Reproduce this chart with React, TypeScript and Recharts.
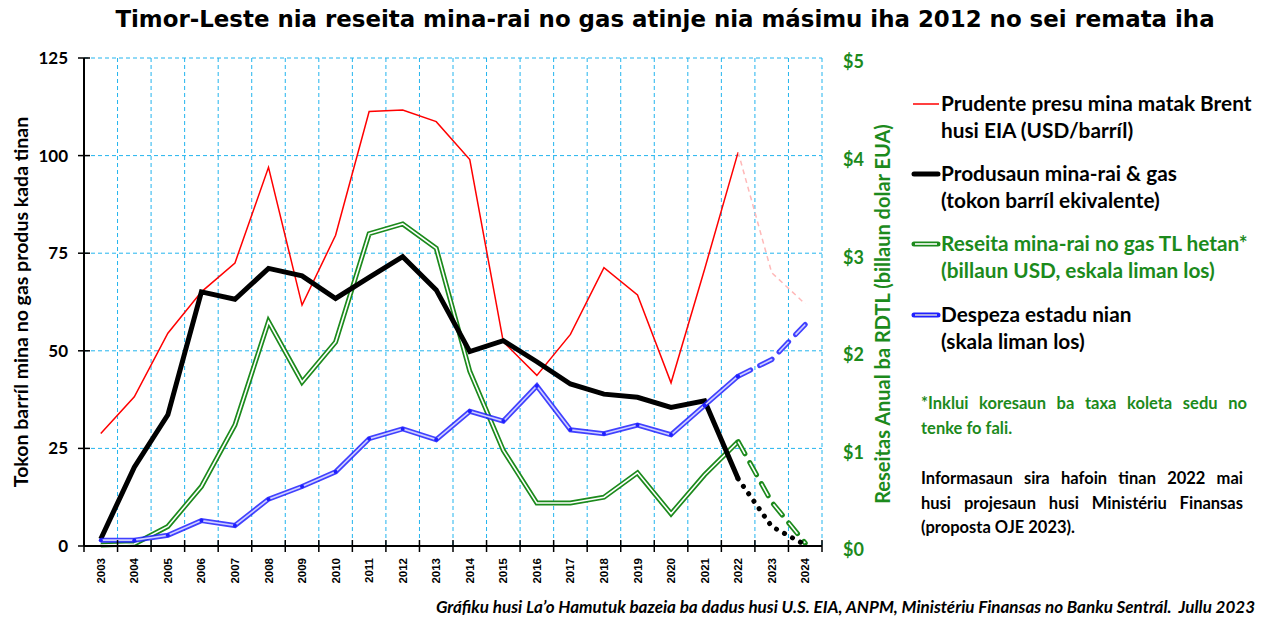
import React from 'react'
import { LineChart, Line, XAxis, YAxis, CartesianGrid } from 'recharts'

const YEARS = [2003, 2004, 2005, 2006, 2007, 2008, 2009, 2010, 2011, 2012, 2013, 2014, 2015, 2016, 2017, 2018, 2019, 2020, 2021, 2022, 2023, 2024]
// Brent price, USD/barrel (left scale)
const BRENT = [28.8, 38.2, 54.5, 65.1, 72.5, 97.0, 61.7, 79.6, 111.3, 111.7, 108.7, 99.0, 52.3, 43.7, 54.2, 71.3, 64.3, 41.8, 70.9, 100.9, 70.0, 62.0]
// production, million barrels oil equivalent (left scale)
const PRODUCTION = [1.8, 20.2, 33.6, 65.1, 63.2, 71.1, 69.2, 63.4, 68.8, 74.1, 65.6, 49.8, 52.6, 47.2, 41.5, 38.9, 38.1, 35.5, 37.2, 17.2, 5.0, 0.3]
// petroleum revenue, billion USD (right scale)
const REVENUE = [0.01, 0.02, 0.2, 0.61, 1.24, 2.3, 1.68, 2.09, 3.2, 3.3, 3.05, 1.79, 0.98, 0.44, 0.44, 0.5, 0.75, 0.33, 0.73, 1.07, 0.45, 0.03]
// state spending, billion USD (right scale)
const SPENDING = [0.06, 0.06, 0.11, 0.26, 0.21, 0.48, 0.61, 0.76, 1.1, 1.2, 1.09, 1.38, 1.28, 1.64, 1.19, 1.15, 1.24, 1.14, 1.44, 1.74, 1.91, 2.27]
const LAST_ACTUAL = 2022

const LEFT_TICKS = [0, 25, 50, 75, 100, 125]
const RIGHT_TICKS = [0, 1, 2, 3, 4, 5]

const W = 1266
const H = 618
const LEFT_W = 84
const RIGHT_W = 60
const MARGIN = { top: 58, right: 384, bottom: 0, left: 0 }
const PLOT_W = W - MARGIN.right - RIGHT_W - LEFT_W
const HALF = PLOT_W / YEARS.length / 2

const GREEN = '#1c8a1c'
const BLUE = '#2020ff'
const GRID = '#22b4ee'
const FONT = 'Lato, "Open Sans", sans-serif'

const bounds = YEARS.map((y) => y - 0.5).concat(YEARS[YEARS.length - 1] + 0.5)

const data = YEARS.map((year, i) => {
    const hist = year <= LAST_ACTUAL
    const proj = year >= LAST_ACTUAL
    return {
        year,
        brent: hist ? BRENT[i] : null,
        brentP: proj ? BRENT[i] : null,
        prod: hist ? PRODUCTION[i] : null,
        prodP: proj ? PRODUCTION[i] : null,
        rev: hist ? REVENUE[i] : null,
        revP: proj ? REVENUE[i] : null,
        spend: hist ? SPENDING[i] : null,
        spendP: proj ? SPENDING[i] : null,
    }
})

function YearTick(props: any) {
    const { x, y, payload } = props
    const v = payload.value
    return (
        <g>
            <line x1={x} x2={x} y1={y - 12} y2={y} stroke="#000" strokeWidth={1.5} />
            {v < YEARS[YEARS.length - 1] && (
                <text
                    x={0}
                    y={0}
                    transform={`translate(${x + HALF + 4}, ${y + 6}) rotate(-90)`}
                    textAnchor="end"
                    fontSize={11.5}
                    fontWeight={700}
                    fontFamily='"Liberation Sans", Arial, sans-serif'
                    fill="#000"
                >
                    {Math.round(v + 0.5)}
                </text>
            )}
        </g>
    )
}

function LeftTick(props: any) {
    const { y, payload } = props
    return (
        <g>
            <line x1={LEFT_W - 6} x2={LEFT_W + 6} y1={y} y2={y} stroke="#000" strokeWidth={1.5} />
            <text x={LEFT_W - 16} y={y + 6} textAnchor="end" fontSize={17} fontWeight={700} fontFamily={FONT} fill="#000">
                {payload.value}
            </text>
        </g>
    )
}

function LegendIcon({ kind }: { kind: string }) {
    return (
        <svg width={30} height={10} style={{ position: 'absolute', left: 0, top: 10 }}>
            {kind === 'red' && <line x1={2} x2={28} y1={5} y2={5} stroke="#ff0000" strokeWidth={1.5} />}
            {kind === 'black' && <line x1={3} x2={27} y1={5} y2={5} stroke="#000" strokeWidth={5} strokeLinecap="round" />}
            {kind === 'green' && (
                <g>
                    <line x1={3} x2={27} y1={5} y2={5} stroke={GREEN} strokeWidth={5} strokeLinecap="round" />
                    <line x1={4} x2={26} y1={5} y2={5} stroke="#fff" strokeWidth={1.6} />
                </g>
            )}
            {kind === 'blue' && (
                <g>
                    <line x1={3} x2={27} y1={5} y2={5} stroke={BLUE} strokeWidth={5} strokeLinecap="round" />
                    <line x1={4} x2={26} y1={5} y2={5} stroke="#ccd" strokeWidth={1.6} />
                </g>
            )}
        </svg>
    )
}

const LEGEND = [
    { kind: 'red', top: 89, color: '#000', lines: ['Prudente presu mina matak Brent', 'husi EIA (USD/barríl)'] },
    { kind: 'black', top: 159, color: '#000', lines: ['Produsaun mina-rai & gas', '(tokon barríl ekivalente)'] },
    { kind: 'green', top: 229, color: GREEN, lines: ['Reseita mina-rai no gas TL hetan*', '(billaun USD, eskala liman los)'] },
    { kind: 'blue', top: 300, color: '#000', lines: ['Despeza estadu nian', '(skala liman los)'] },
]

const NOTE_GREEN = ['*Inklui koresaun ba taxa koleta sedu no', 'tenke fo fali.']
const NOTE_BLACK = ['Informasaun sira hafoin tinan 2022 mai', 'husi projesaun husi Ministériu Finansas', '(proposta OJE 2023).']

function Justified({ lines, style }: { lines: string[]; style: React.CSSProperties }) {
    return (
        <div style={style}>
            {lines.map((l, i) => (
                <div key={l} style={{ textAlign: 'justify', textAlignLast: i < lines.length - 1 ? 'justify' : 'left' }}>
                    {l}
                </div>
            ))}
        </div>
    )
}

export default function App() {
    return (
        <div style={{ position: 'absolute', left: 0, top: 0, width: W, height: H, background: '#fff', fontFamily: FONT, overflow: 'hidden' }}>
            <div style={{ position: 'absolute', left: 0, top: 6, width: 1330, textAlign: 'center', fontSize: 22.9, fontWeight: 700, color: '#000', fontFamily: '"DejaVu Sans", Verdana, sans-serif', whiteSpace: 'nowrap' }}>
                Timor-Leste nia reseita mina-rai no gas atinje nia másimu iha 2012 no sei remata iha
            </div>

            <LineChart width={W} height={H} data={data} margin={MARGIN} style={{ position: 'absolute', left: 0, top: 0 }}>
                <CartesianGrid yAxisId="left" stroke={GRID} strokeDasharray="4 3" strokeWidth={1} />
                <XAxis
                    dataKey="year"
                    type="number"
                    domain={[bounds[0], bounds[bounds.length - 1]]}
                    ticks={bounds}
                    interval={0}
                    height={72}
                    axisLine={{ stroke: '#000', strokeWidth: 2 }}
                    tickLine={false}
                    tickSize={6}
                    tickMargin={0}
                    tick={<YearTick />}
                />
                <YAxis
                    yAxisId="left"
                    domain={[0, 125]}
                    ticks={LEFT_TICKS}
                    width={LEFT_W}
                    axisLine={{ stroke: '#000', strokeWidth: 2 }}
                    tickLine={false}
                    tick={<LeftTick />}
                />
                <YAxis
                    yAxisId="right"
                    orientation="right"
                    domain={[0, 5]}
                    ticks={RIGHT_TICKS}
                    width={RIGHT_W}
                    axisLine={false}
                    tickLine={false}
                    tickSize={6}
                    tickMargin={15}
                    tickFormatter={(v) => `$${v}`}
                    tick={{ fill: GREEN, fontSize: 18, fontWeight: 700, fontFamily: FONT, textAnchor: 'start', dy: 4 }}
                />

                <Line yAxisId="left" dataKey="brent" stroke="#ff0000" strokeWidth={1.5} dot={false} activeDot={false} isAnimationActive={false} />
                <Line yAxisId="left" dataKey="brentP" stroke="#ffb8b8" strokeWidth={1.5} strokeDasharray="5 4" dot={false} activeDot={false} isAnimationActive={false} />

                <Line yAxisId="right" dataKey="rev" stroke={GREEN} strokeWidth={5} dot={false} activeDot={false} isAnimationActive={false} />
                <Line yAxisId="right" dataKey="rev" stroke="#fff" strokeWidth={1.6} dot={false} activeDot={false} isAnimationActive={false} />
                <Line yAxisId="right" dataKey="revP" stroke={GREEN} strokeWidth={5} strokeDasharray="14 10" strokeLinecap="round" dot={false} activeDot={false} isAnimationActive={false} />
                <Line yAxisId="right" dataKey="revP" stroke="#fff" strokeWidth={1.6} strokeDasharray="14 10" dot={false} activeDot={false} isAnimationActive={false} />

                <Line yAxisId="left" dataKey="prod" stroke="#000" strokeWidth={5} dot={false} activeDot={false} isAnimationActive={false} />
                <Line yAxisId="left" dataKey="prodP" stroke="#000" strokeWidth={5} strokeDasharray="0.1 9" strokeLinecap="round" dot={false} activeDot={false} isAnimationActive={false} />

                <Line yAxisId="right" dataKey="spend" stroke={BLUE} strokeWidth={5} strokeOpacity={0.85} dot={{ r: 2, fill: BLUE, stroke: 'none' }} activeDot={false} isAnimationActive={false} />
                <Line yAxisId="right" dataKey="spend" stroke="#d0d0ff" strokeWidth={1.6} dot={false} activeDot={false} isAnimationActive={false} />
                <Line yAxisId="right" dataKey="spendP" stroke={BLUE} strokeWidth={5} strokeOpacity={0.85} strokeDasharray="14 10" strokeLinecap="round" dot={false} activeDot={false} isAnimationActive={false} />
                <Line yAxisId="right" dataKey="spendP" stroke="#d0d0ff" strokeWidth={1.6} strokeDasharray="14 10" dot={false} activeDot={false} isAnimationActive={false} />
            </LineChart>

            <div style={{ position: 'absolute', left: 20, top: 302, width: 0, height: 0 }}>
                <div style={{ position: 'absolute', transform: 'translate(-50%, -50%) rotate(-90deg)', whiteSpace: 'nowrap', fontSize: 19.5, fontWeight: 700, color: '#000' }}>
                    Tokon barríl mina no gas produs kada tinan
                </div>
            </div>
            <div style={{ position: 'absolute', left: 882, top: 314, width: 0, height: 0 }}>
                <div style={{ position: 'absolute', transform: 'translate(-50%, -50%) rotate(-90deg)', whiteSpace: 'nowrap', fontSize: 20, fontWeight: 700, color: GREEN }}>
                    Reseitas Anual ba RDTL (billaun dolar EUA)
                </div>
            </div>

            {LEGEND.map((item) => (
                <div key={item.kind} style={{ position: 'absolute', left: 911, top: item.top }}>
                    <LegendIcon kind={item.kind} />
                    <div style={{ marginLeft: 30, fontSize: 20.8, fontWeight: 700, lineHeight: '27px', color: item.color, whiteSpace: 'nowrap' }}>
                        {item.lines.map((l) => (
                            <div key={l}>{l}</div>
                        ))}
                    </div>
                </div>
            ))}

            <Justified
                lines={NOTE_GREEN}
                style={{ position: 'absolute', left: 921, top: 391, width: 326, fontSize: 16.5, fontWeight: 700, lineHeight: '25px', color: GREEN }}
            />
            <Justified
                lines={NOTE_BLACK}
                style={{ position: 'absolute', left: 921, top: 466, width: 322, fontSize: 16.5, fontWeight: 700, lineHeight: '24.5px', color: '#000' }}
            />

            <div style={{ position: 'absolute', right: 11, top: 596, fontSize: 17, fontWeight: 700, fontStyle: 'italic', color: '#000', whiteSpace: 'pre' }}>
                {'Gráfiku husi La’o Hamutuk bazeia ba dadus husi U.S. EIA, ANPM, Ministériu Finansas no Banku Sentrál.  Jullu 2023'}
            </div>
        </div>
    )
}
